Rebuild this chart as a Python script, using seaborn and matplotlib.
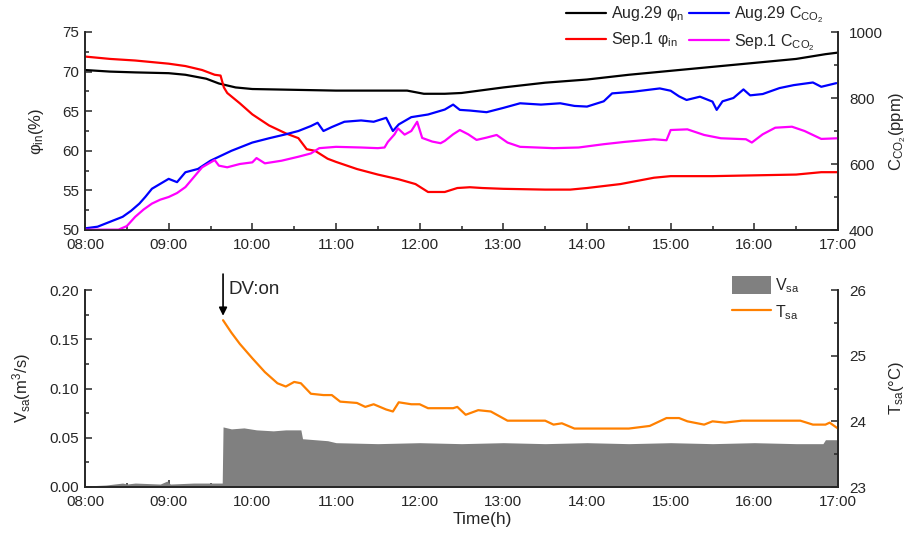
import numpy as np
import pandas as pd
import matplotlib
matplotlib.use("Agg")
import matplotlib.pyplot as plt
import seaborn as sns
from matplotlib.patches import Patch
from matplotlib.lines import Line2D
from matplotlib.ticker import MultipleLocator

# ---------------- data (time in decimal hours) ----------------
hour_ticks = [8, 9, 10, 11, 12, 13, 14, 15, 16, 17]
hour_labels = ["08:00", "09:00", "10:00", "11:00", "12:00", "13:00", "14:00", "15:00", "16:00", "17:00"]

aug_phi_t = [8.00, 8.30, 8.60, 9.00, 9.20, 9.45, 9.60, 9.80, 10.00, 10.50, 11.00, 11.50, 11.85, 12.05,
             12.30, 12.50, 13.00, 13.50, 14.00, 14.50, 15.00, 15.50, 16.00, 16.50, 16.85, 17.00]
aug_phi = [70.2, 70.0, 69.9, 69.8, 69.6, 69.1, 68.5, 68.0, 67.8, 67.7, 67.6, 67.6, 67.6, 67.2,
           67.2, 67.3, 68.0, 68.6, 69.0, 69.6, 70.1, 70.6, 71.1, 71.6, 72.2, 72.4]

sep_phi_t = [8.00, 8.30, 8.60, 9.00, 9.20, 9.40, 9.55, 9.62, 9.66, 9.70, 9.85, 10.00, 10.20, 10.40,
             10.55, 10.65, 10.75, 10.90, 11.00, 11.25, 11.50, 11.75, 11.95, 12.10, 12.30, 12.45,
             12.60, 12.75, 13.00, 13.50, 13.80, 14.00, 14.40, 14.80, 15.00, 15.50, 16.00, 16.50,
             16.80, 17.00]
sep_phi = [71.9, 71.6, 71.4, 71.0, 70.7, 70.2, 69.6, 69.5, 68.0, 67.3, 66.0, 64.6, 63.2, 62.2,
           61.6, 60.2, 60.0, 59.0, 58.6, 57.7, 57.0, 56.4, 55.8, 54.8, 54.8, 55.3,
           55.4, 55.3, 55.2, 55.1, 55.1, 55.3, 55.8, 56.6, 56.8, 56.8, 56.9, 57.0,
           57.3, 57.3]

aug_co2_t = [8.00, 8.15, 8.30, 8.45, 8.55, 8.65, 8.72, 8.80, 8.90, 9.00, 9.10, 9.20, 9.35, 9.50,
             9.60, 9.75, 9.90, 10.00, 10.20, 10.40, 10.55, 10.70, 10.78, 10.85, 10.95, 11.10,
             11.30, 11.45, 11.60, 11.68, 11.75, 11.90, 12.10, 12.30, 12.40, 12.48, 12.60, 12.80,
             13.00, 13.20, 13.45, 13.68, 13.85, 14.00, 14.20, 14.30, 14.55, 14.87, 15.00, 15.10,
             15.19, 15.35, 15.50, 15.55, 15.62, 15.75, 15.87, 15.95, 16.10, 16.30, 16.47, 16.70,
             16.80, 16.98]
aug_co2 = [405, 410, 425, 440, 458, 480, 500, 525, 540, 555, 545, 575, 585, 610,
           622, 640, 655, 665, 678, 690, 700, 715, 725, 700, 712, 728,
           732, 728, 740, 700, 720, 742, 750, 765, 780, 764, 762, 757,
           770, 784, 780, 784, 776, 774, 790, 814, 819, 829, 822, 805,
           794, 804, 789, 764, 790, 800, 826, 808, 812, 830, 839, 847,
           834, 845]

sep_co2_t = [8.00, 8.40, 8.50, 8.60, 8.70, 8.80, 8.90, 9.00, 9.10, 9.20, 9.30, 9.40, 9.55, 9.60,
             9.70, 9.85, 10.00, 10.05, 10.15, 10.35, 10.55, 10.70, 10.80, 11.00, 11.30, 11.50,
             11.58, 11.62, 11.70, 11.74, 11.82, 11.90, 11.97, 12.03, 12.15, 12.25, 12.30, 12.40,
             12.48, 12.58, 12.68, 12.80, 12.92, 13.05, 13.20, 13.60, 13.90, 14.20, 14.45, 14.80,
             14.95, 15.00, 15.20, 15.40, 15.60, 15.90, 15.97, 16.10, 16.25, 16.45, 16.60, 16.80,
             17.00]
sep_co2 = [401, 401, 412, 440, 462, 480, 492, 500, 512, 530, 560, 590, 612, 595,
           590, 600, 605, 618, 602, 610, 622, 632, 648, 652, 650, 648,
           650, 667, 690, 708, 689, 700, 728, 679, 668, 663, 670, 690,
           703, 690, 673, 680, 688, 665, 652, 648, 650, 660, 667, 675,
           672, 703, 705, 688, 678, 675, 665, 690, 710, 713, 700, 676,
           678]

vsa_t = [8.00, 8.25, 8.45, 8.50, 8.60, 8.90, 8.98, 9.02, 9.30, 9.50, 9.64, 9.65, 9.75, 9.90, 10.05,
         10.25, 10.40, 10.58, 10.60, 10.75, 10.90, 11.00, 11.50, 12.00, 12.50, 13.00, 13.50, 14.00,
         14.50, 15.00, 15.50, 16.00, 16.50, 16.82, 16.85, 17.00]
vsa = [0.001, 0.002, 0.004, 0.003, 0.004, 0.003, 0.006, 0.003, 0.004, 0.004, 0.004, 0.061, 0.059, 0.060, 0.058,
       0.057, 0.058, 0.058, 0.049, 0.048, 0.047, 0.045, 0.044, 0.045, 0.044, 0.045, 0.044, 0.045,
       0.044, 0.045, 0.044, 0.045, 0.044, 0.044, 0.048, 0.048]

tsa_t = [9.65, 9.75, 9.85, 10.00, 10.15, 10.30, 10.40, 10.50, 10.58, 10.70, 10.85, 10.95, 11.05,
         11.25, 11.35, 11.45, 11.60, 11.68, 11.75, 11.90, 12.00, 12.10, 12.40, 12.45, 12.55,
         12.70, 12.85, 13.05, 13.50, 13.60, 13.70, 13.85, 14.50, 14.75, 14.95, 15.10, 15.20,
         15.40, 15.50, 15.65, 15.85, 16.55, 16.70, 16.85, 16.90, 17.00]
tsa = [25.54, 25.35, 25.18, 24.96, 24.75, 24.58, 24.53, 24.60, 24.58, 24.42, 24.40, 24.40, 24.30,
       24.28, 24.22, 24.26, 24.18, 24.15, 24.29, 24.26, 24.26, 24.20, 24.20, 24.22, 24.10,
       24.17, 24.15, 24.01, 24.01, 23.95, 23.97, 23.89, 23.89, 23.93, 24.05, 24.05, 24.00,
       23.95, 24.00, 23.98, 24.01, 24.01, 23.95, 23.95, 23.98, 23.89]

# ---------------- style ----------------
sns.set_style("ticks")
plt.rcParams["font.family"] = ["Liberation Sans", "DejaVu Sans"]
plt.rcParams["mathtext.default"] = "regular"
plt.rcParams["axes.linewidth"] = 1.2

C_BLACK, C_BLUE, C_RED, C_MAG = "#000000", "#0000ff", "#ff0000", "#ff00ff"
C_ORANGE, C_GRAY = "#ff8000", "#808080"
TICK_FS = 11

fig = plt.figure(figsize=(9.06, 5.38), dpi=100)
W, H = 906, 538
ax1 = fig.add_axes([85 / W, 1 - 230 / H, 753 / W, 198 / H])
ax1r = ax1.twinx()
ax2 = fig.add_axes([85 / W, 1 - 487 / H, 753 / W, 197 / H])
ax2r = ax2.twinx()

lw = 1.6
sns.lineplot(x=aug_phi_t, y=aug_phi, ax=ax1, color=C_BLACK, lw=lw, estimator=None, sort=False)
sns.lineplot(x=sep_phi_t, y=sep_phi, ax=ax1, color=C_RED, lw=lw, estimator=None, sort=False)
sns.lineplot(x=aug_co2_t, y=aug_co2, ax=ax1r, color=C_BLUE, lw=lw, estimator=None, sort=False)
sns.lineplot(x=sep_co2_t, y=sep_co2, ax=ax1r, color=C_MAG, lw=lw, estimator=None, sort=False)

ax2.fill_between(vsa_t, vsa, 0, color=C_GRAY, lw=0)
sns.lineplot(x=tsa_t, y=tsa, ax=ax2r, color=C_ORANGE, lw=lw, estimator=None, sort=False)

for ax in (ax1, ax1r, ax2, ax2r):
    ax.set_xlim(8, 17)
    ax.spines["top"].set_visible(False)
    ax.tick_params(which="both", direction="in", labelsize=TICK_FS, width=1.1)
    ax.tick_params(which="major", length=5)
    ax.tick_params(which="minor", length=3)

for ax in (ax1, ax2):
    ax.set_xticks(hour_ticks)
    ax.set_xticklabels(hour_labels)
    ax.xaxis.set_minor_locator(MultipleLocator(0.5))
    ax.tick_params(axis="x", pad=6)
    ax.tick_params(axis="y", pad=4)
for ax in (ax1r, ax2r):
    ax.tick_params(axis="y", pad=8)

ax1.set_ylim(50, 75)
ax1.yaxis.set_major_locator(MultipleLocator(5))
ax1.yaxis.set_minor_locator(MultipleLocator(2.5))
ax1r.set_ylim(400, 1000)
ax1r.yaxis.set_major_locator(MultipleLocator(200))
ax1r.yaxis.set_minor_locator(MultipleLocator(100))

ax2.set_ylim(0, 0.2)
ax2.yaxis.set_major_locator(MultipleLocator(0.05))
ax2.yaxis.set_minor_locator(MultipleLocator(0.025))
ax2.yaxis.set_major_formatter(matplotlib.ticker.FormatStrFormatter("%.2f"))
ax2r.set_ylim(23, 26)
ax2r.yaxis.set_major_locator(MultipleLocator(1))
ax2r.yaxis.set_minor_locator(MultipleLocator(0.5))

LAB_FS = 12
ax1.set_ylabel("φ$_{in}$(%)", fontsize=LAB_FS)
ax1r.set_ylabel("C$_{CO_2}$(ppm)", fontsize=LAB_FS)
ax2.set_ylabel("V$_{sa}$(m$^3$/s)", fontsize=LAB_FS)
ax2r.set_ylabel("T$_{sa}$(°C)", fontsize=LAB_FS)
ax1.set_xlabel("")
ax2.set_xlabel("Time(h)", fontsize=12.5)
ax1.yaxis.set_label_coords(-0.052, 0.5)
ax2.yaxis.set_label_coords(-0.069, 0.5)
ax1r.yaxis.set_label_coords(1.065, 0.5)
ax2r.yaxis.set_label_coords(1.065, 0.5)
ax2.xaxis.set_label_coords((482 - 85) / 753, -0.125)

# DV:on annotation
ax2.annotate("", xy=(9.65, 0.171), xytext=(9.65, 0.219),
             arrowprops=dict(arrowstyle="-|>", color="black", lw=1.2, mutation_scale=12),
             annotation_clip=False)
ax2.text(9.72, 0.2, "DV:on", fontsize=13.5, va="center", ha="left", clip_on=False)

# legends
h_top = [Line2D([], [], color=C_BLACK, lw=lw), Line2D([], [], color=C_RED, lw=lw),
         Line2D([], [], color=C_BLUE, lw=lw), Line2D([], [], color=C_MAG, lw=lw)]
l_top = ["Aug.29 φ$_{n}$", "Sep.1 φ$_{in}$", "Aug.29 C$_{CO_2}$", "Sep.1 C$_{CO_2}$"]
fig.legend(h_top, l_top, loc="upper left", bbox_to_anchor=(563 / W, 1 - 1 / H), ncol=2,
           frameon=False, fontsize=11.5, handlelength=2.5, handletextpad=0.3,
           columnspacing=0.3, labelspacing=0.45, borderpad=0.2, borderaxespad=0)

h_bot = [Patch(facecolor=C_GRAY, edgecolor="none"), Line2D([], [], color=C_ORANGE, lw=lw)]
l_bot = ["V$_{sa}$", "T$_{sa}$"]
fig.legend(h_bot, l_bot, loc="upper left", bbox_to_anchor=(729 / W, 1 - 273 / H),
           frameon=False, fontsize=11.5, handlelength=2.4, handleheight=1.3,
           handletextpad=0.3, labelspacing=0.5, borderpad=0.2, borderaxespad=0)

fig.savefig("out.png", dpi=100, facecolor="white")
